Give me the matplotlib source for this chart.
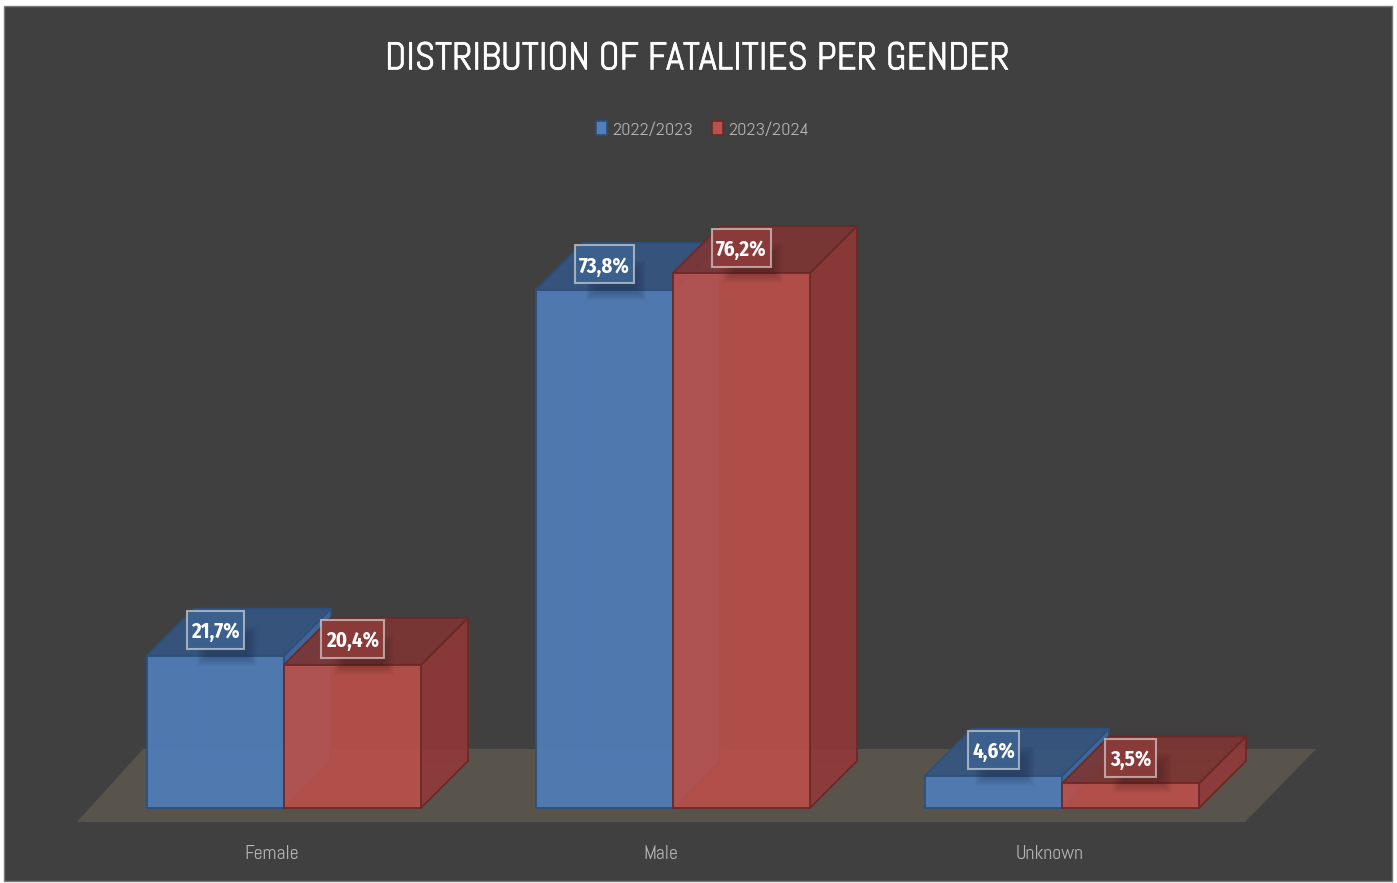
import matplotlib
matplotlib.use("Agg")
import matplotlib.pyplot as plt
import matplotlib.patheffects as pe
from matplotlib.colors import to_rgba
from matplotlib.patches import Polygon, Rectangle, Patch
from matplotlib import font_manager as fm

# ---- data ----
categories = ["Female", "Male", "Unknown"]
series_names = ["2022/2023", "2023/2024"]
values_2022 = [21.7, 73.8, 4.6]
values_2023 = [20.4, 76.2, 3.5]
labels_2022 = ["21,7%", "73,8%", "4,6%"]
labels_2023 = ["20,4%", "76,2%", "3,5%"]
title = "DISTRIBUTION OF FATALITIES PER GENDER"

# ---- style ----
W, H = 1397, 883
avail = {f.name for f in fm.fontManager.ttflist}
def pick(*names):
    for n in names:
        if n in avail:
            return n
    return "DejaVu Sans"
FONT = pick("Abel", "Liberation Sans Narrow", "Roboto", "Liberation Sans")
BOLD = pick("Fira Sans Condensed", "Roboto Condensed", "Archivo Narrow", "PT Sans Narrow",
            "Liberation Sans Narrow", "Roboto", "Liberation Sans")
plt.rcParams["font.family"] = [FONT, "DejaVu Sans"]
BG = "#404040"
PX_X = 389.0      # pixels per category
PX_Y = 7.02       # pixels per percent
BASE = 808.0; ORIGIN = 284.0
AX_TOP, AX_BOT = 150.0, 835.0
BAR_W = 137 / PX_X
DX = 47 / PX_X; DY = 47 / PX_Y
STY = {
    0: dict(front="#507FBB", top="#355682", side="#406A9E", edge="#2C507C", box="#3B608D", shadow="#16293F"),
    1: dict(front="#BC504B", top="#7E3533", side="#913937", edge="#692A28", box="#8A3A39", shadow="#431615"),
}
A = 0.9

fig = plt.figure(figsize=(W / 100, H / 100), dpi=100, facecolor="white")
fig.add_artist(Rectangle((4 / W, 1 - 881 / H), 1388 / W, 875 / H, transform=fig.transFigure,
                         facecolor=BG, edgecolor="#7a7a7a", linewidth=1.0, zorder=-5))
ax = fig.add_axes([0, 1 - AX_BOT / H, 1, (AX_BOT - AX_TOP) / H])
ax.patch.set_visible(False)
ax.set_xlim(-ORIGIN / PX_X, (W - ORIGIN) / PX_X)
ax.set_ylim((BASE - AX_BOT) / PX_Y, (BASE - AX_TOP) / PX_Y)
for s in ax.spines.values():
    s.set_visible(False)

# floor
f_y0, f_y1 = -14 / PX_Y, 59 / PX_Y
ax.add_patch(Polygon([(-207 / PX_X, f_y0), (961 / PX_X, f_y0), (1032 / PX_X, f_y1), (-141 / PX_X, f_y1)],
                     closed=True, facecolor="#58544C", edgecolor="none", zorder=1))

renderer = fig.canvas.get_renderer()

def draw_bar(x0, v, st, z, label):
    x1 = x0 + BAR_W
    kw = dict(closed=True, linewidth=1.3, zorder=z, joinstyle="round")
    ec_soft = to_rgba(st["edge"], 0.4)
    ax.plot([x0, x0 + DX, x1 + DX], [0, DY, DY], color=ec_soft, lw=1.1, zorder=z)
    ax.plot([x0 + DX, x0 + DX], [DY, v + DY], color=ec_soft, lw=1.1, zorder=z)
    ax.add_patch(Polygon([(x1, 0), (x1 + DX, DY), (x1 + DX, v + DY), (x1, v)],
                         facecolor=to_rgba(st["side"], A), edgecolor=st["edge"], **kw))
    ax.add_patch(Polygon([(x0, v), (x1, v), (x1 + DX, v + DY), (x0 + DX, v + DY)],
                         facecolor=to_rgba(st["top"], A), edgecolor=st["edge"], **kw))
    ax.bar(x0, v, width=BAR_W, align="edge", color=to_rgba(st["front"], A), edgecolor=st["edge"],
           linewidth=1.3, zorder=z + 0.1)
    xc = x0 + BAR_W / 2
    # soft shadow under the label
    for grow in range(0, 12):
        ax.add_patch(Rectangle((xc - (8 + grow) / PX_X, v + (1 - grow) / PX_Y),
                               (38 + 2 * grow) / PX_X, (18 + 2 * grow) / PX_Y,
                               facecolor=st["shadow"], alpha=0.032, edgecolor="none", zorder=z + 0.2))
    # label: text first, then a box measured from it
    yc = v + 25.5 / PX_Y
    t = ax.text(xc, yc - 2 / PX_Y, label, ha="center", va="center", color="white", fontsize=15,
                family=[BOLD, "DejaVu Sans"], fontweight="bold", zorder=z + 0.4)
    bb = t.get_window_extent(renderer)
    bw = (bb.width + 9) / PX_X
    bh = 38 / PX_Y
    ax.add_patch(Rectangle((xc - bw / 2, yc - bh / 2), bw, bh, facecolor=st["box"],
                           edgecolor=to_rgba("#E8E8E8", 0.6), linewidth=1.5, zorder=z + 0.3))

for i, _ in enumerate(categories):
    draw_bar(i - BAR_W, values_2022[i], STY[0], 3 + i * 2, labels_2022[i])
    draw_bar(i, values_2023[i], STY[1], 4 + i * 2, labels_2023[i])

# category axis
ax.set_xticks([i - 12 / PX_X for i in range(len(categories))])
ax.set_xticklabels(categories)
ax.tick_params(axis="x", length=0, pad=7, labelsize=14.2, labelcolor="#B4B4B4")
ax.set_yticks([])

# title
ttl = ax.set_title(title, color="white", fontsize=28, pad=58, x=698 / W, ha="center")
ttl.set_path_effects([pe.withStroke(linewidth=0.4, foreground="white")])

# legend
handles = [Patch(facecolor=STY[i]["front"], edgecolor=STY[i]["edge"], linewidth=1.2) for i in range(2)]
fig.legend(handles, series_names, loc="center", bbox_to_anchor=(702.5 / W, 1 - 130 / H), ncol=2,
           frameon=False, fontsize=13.2, labelcolor="#B4B4B4", handlelength=0.6, handleheight=0.75,
           handletextpad=0.3, columnspacing=1.0)

fig.savefig("out.png", dpi=100, facecolor="white")
